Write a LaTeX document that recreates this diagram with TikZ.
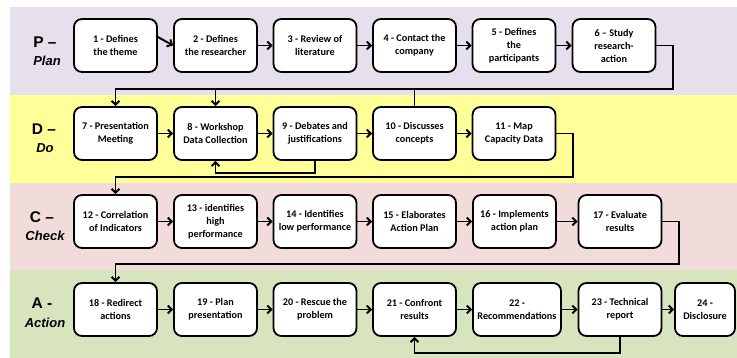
\documentclass[tikz,border=0pt]{standalone}
\usepackage{fontspec}
\setmainfont{Liberation Sans}
\newfontfamily\boxfont{Carlito}
\usetikzlibrary{arrows.meta}
\definecolor{bandP}{HTML}{E5E0EC}
\definecolor{bandD}{HTML}{FFFF99}
\definecolor{bandC}{HTML}{F2DCDB}
\definecolor{bandA}{HTML}{D7E4BD}
\tikzset{
  stepbox/.style={draw=black, line width=1.8pt, fill=white, rounded corners=8pt,
    minimum width=83pt, minimum height=53pt, inner sep=1pt, align=center,
    font=\boxfont\bfseries\fontsize{10.2}{13}\selectfont},
  conn/.style={line width=1.9pt, -{Straight Barb[length=4pt,width=8pt]}},
  lblbig/.style={font=\bfseries\fontsize{15.5}{16}\selectfont, inner sep=0pt},
  lblsmall/.style={font=\bfseries\itshape\fontsize{13}{14}\selectfont, inner sep=0pt},
}
\begin{document}
\begin{tikzpicture}[x=1pt,y=-1pt]
\useasboundingbox (0,0) rectangle (737,358);
% bands
\fill[bandP] (10,7) rectangle (737,95);
\fill[bandD] (10,95) rectangle (737,183);
\fill[bandC] (10,183) rectangle (737,270);
\fill[bandA] (10,270) rectangle (737,358);
% row labels
\node[lblbig] (lP) at (45,42) {P –};
\node[lblsmall] (lPl) at (47,61) {Plan};
\node[lblbig] (lD) at (44,129) {D –};
\node[lblsmall] (lDo) at (45,148) {Do};
\node[lblbig] (lC) at (42,217) {C –};
\node[lblsmall] (lCh) at (45,236) {Check};
\node[lblbig] (lA) at (42,303) {A -};
\node[lblsmall] (lAc) at (45,323) {Action};
% row 1
\node[stepbox] (n1) at (115.5,45.5) {1 - Defines\\the theme};
\node[stepbox] (n2) at (215.5,45.5) {2 - Defines\\the researcher};
\node[stepbox] (n3) at (315,45.5) {3 - Review of\\literature};
\node[stepbox] (n4) at (414.5,45.5) {4 - Contact the\\company};
\node[stepbox] (n5) at (514,45.5) {5 - Defines\\the\\participants};
\node[stepbox] (n6) at (614,45.5) {6 – Study\\research-\\action};
% row 2
\node[stepbox] (n7) at (115.5,133.5) {7 - Presentation\\Meeting};
\node[stepbox] (n8) at (215.5,133.5) {8 - Workshop\\Data Collection};
\node[stepbox] (n9) at (315,133.5) {9 - Debates and\\justifications};
\node[stepbox] (n10) at (414.5,133.5) {10 - Discusses\\concepts};
\node[stepbox] (n11) at (514,133.5) {11 - Map\\Capacity Data};
% row 3
\node[stepbox] (n12) at (115.5,221.5) {12 - Correlation\\of Indicators};
\node[stepbox] (n13) at (215.5,221.5) {13 - identifies\\high\\performance};
\node[stepbox] (n14) at (315,221.5) {14 - Identifies\\low performance};
\node[stepbox] (n15) at (414.5,221.5) {15 - Elaborates\\Action Plan};
\node[stepbox] (n16) at (514.5,221.5) {16 - Implements\\action plan};
\node[stepbox] (n17) at (620,221.5) {17 - Evaluate\\results};
% row 4
\node[stepbox] (n18) at (115.5,309.5) {18 - Redirect\\actions};
\node[stepbox] (n19) at (215.5,309.5) {19 - Plan\\presentation};
\node[stepbox] (n20) at (315,309.5) {20 - Rescue the\\problem};
\node[stepbox] (n21) at (414.5,309.5) {21 - Confront\\results};
\node[stepbox, minimum width=88pt] (n22) at (517,309.5) {22 -\\Recommendations};
\node[stepbox] (n23) at (620,309.5) {23 - Technical\\report};
\node[stepbox, minimum width=60pt] (n24) at (705,309.5) {24 -\\Disclosure};
% routing coordinates
\coordinate (r1) at (673,89);
\coordinate (b2) at (315,173);
\coordinate (r2) at (573,177);
\coordinate (r3) at (679,264);
\coordinate (b4) at (620,353);
% horizontal arrows
\draw[conn] ([yshift=8.5pt]n1.east) -- (n2.west);
\draw[conn] (n2.east) -- (n3.west);
\draw[conn] (n3.east) -- (n4.west);
\draw[conn] (n4.east) -- (n5.west);
\draw[conn] (n5.east) -- (n6.west);
\draw[conn] (n7.east) -- (n8.west);
\draw[conn] (n8.east) -- (n9.west);
\draw[conn] (n9.east) -- (n10.west);
\draw[conn] (n10.east) -- (n11.west);
\draw[conn] (n12.east) -- (n13.west);
\draw[conn] (n13.east) -- (n14.west);
\draw[conn] (n14.east) -- (n15.west);
\draw[conn] (n15.east) -- (n16.west);
\draw[conn] (n16.east) -- (n17.west);
\draw[conn] (n18.east) -- (n19.west);
\draw[conn] (n19.east) -- (n20.west);
\draw[conn] (n20.east) -- (n21.west);
\draw[conn] (n21.east) -- (n22.west);
\draw[conn] (n22.east) -- (n23.west);
\draw[conn] (n23.east) -- (n24.west);
% row transitions and loops
\draw[conn] (n6.east) -| (r1) -| (n7.north);
\draw[conn] (n10.north) |- (r1 -| n8.north) -- (n8.north);
\draw[conn] (n9.south) |- (b2 -| n8.south) -- (n8.south);
\draw[conn] (n11.east) -| (r2) -| (n12.north);
\draw[conn] (n17.east) -| (r3) -| (n18.north);
\draw[conn] (n23.south) |- (b4 -| n21.south) -- (n21.south);
\end{tikzpicture}
\end{document}
